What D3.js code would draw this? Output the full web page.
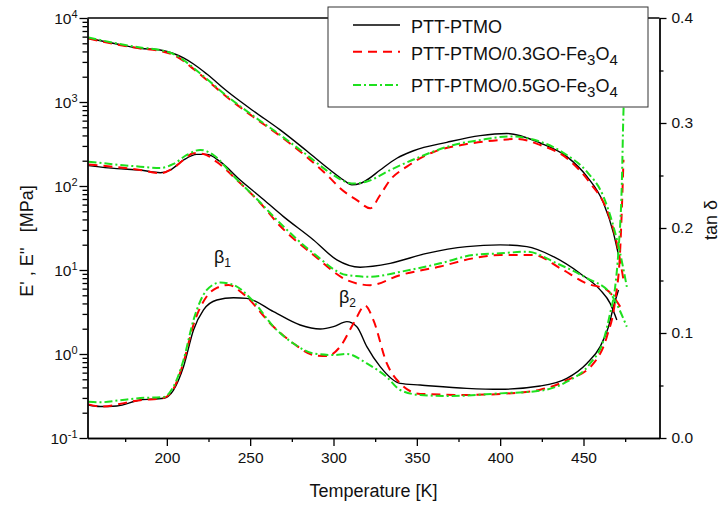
<!DOCTYPE html>
<html>
<head>
<meta charset="utf-8">
<script src="https://cdn.jsdelivr.net/npm/d3@7"></script>
<style>
  body { margin: 0; background: #fff; }
  svg { display: block; }
  text { font-family: "Liberation Sans", Arial, sans-serif; fill: #111; }
</style>
</head>
<body>
<svg id="chart" width="722" height="508"></svg>
<script>
// temperatures [K] and values
// E' (storage modulus, MPa)
var tEpBlack = [153, 170, 184, 196, 204, 210, 216, 224, 236, 252, 268, 284, 298, 306, 311, 316, 320, 328, 338, 348, 368, 388, 404, 424, 440, 452, 462, 468, 471]
var epBlack = [5730, 4900, 4355, 4160, 3776, 3342, 2831, 2153, 1352, 782, 465, 261, 155, 118, 103, 107, 118, 155, 214, 263, 331, 398, 422, 325, 224, 130, 62.8, 27.5, 15.1]

var tEpRed = [153, 184, 196, 204, 210, 216, 224, 236, 252, 268, 284, 298, 304, 314, 322, 328, 334, 344, 360, 380, 400, 410, 424, 440, 454, 464, 470, 474]
var epRed = [5700, 4335, 4046, 3631, 3076, 2472, 1828, 1148, 662, 394, 221, 124, 94, 68, 54.3, 78.2, 118, 170, 254, 316, 353, 363, 308, 214, 108, 51.8, 20.8, 7.6]

var tEpGreen = [153, 184, 196, 204, 210, 216, 224, 236, 252, 268, 284, 298, 306, 311, 320, 334, 352, 372, 388, 406, 424, 440, 452, 462, 468, 472, 476]
var epGreen = [5860, 4457, 4160, 3724, 3162, 2541, 1879, 1178, 681, 405, 234, 143, 115, 107, 113, 155, 223, 308, 353, 389, 337, 234, 148, 74.6, 32.8, 15.8, 6.3]

// E'' (loss modulus, MPa)
var tEppBlack = [153, 170, 184, 196, 202, 210, 218, 224, 232, 244, 256, 270, 288, 302, 316, 334, 356, 380, 400, 416, 432, 448, 460, 466, 470]
var eppBlack = [175, 161, 155, 144, 155, 204, 238, 238, 195, 118, 74.6, 43.2, 22.8, 13.2, 10.8, 12.0, 15.8, 19.0, 19.9, 19.0, 14.4, 9.1, 5.8, 4.0, 2.54]

var tEppRed = [153, 184, 196, 204, 210, 216, 222, 230, 242, 256, 268, 288, 308, 322, 340, 364, 384, 400, 420, 436, 452, 464, 472]
var eppRed = [180, 155, 142, 164, 204, 245, 240, 193, 118, 62.8, 33.4, 15.1, 7.6, 6.6, 8.7, 11.0, 13.8, 15.1, 15.1, 10.5, 6.9, 5.8, 3.66]

var tEppGreen = [153, 184, 196, 204, 212, 220, 228, 240, 254, 268, 288, 308, 322, 340, 364, 384, 400, 416, 434, 452, 466, 476]
var eppGreen = [195, 170, 164, 183, 234, 269, 234, 131, 70, 36, 15.8, 8.7, 8.3, 9.5, 12.0, 15.1, 15.8, 16.5, 12.0, 8.0, 5.3, 2.11]

// tan delta
var tTanBlack = [153, 160, 170, 184, 198, 204, 210, 216, 222, 230, 240, 248, 264, 280, 292, 300, 308, 314, 320, 328, 340, 352, 380, 400, 424, 440, 452, 460, 465, 468, 471]
var tanBlack = [0.0314, 0.030, 0.0305, 0.0362, 0.0378, 0.0457, 0.0679, 0.1029, 0.122, 0.1314, 0.1336, 0.133, 0.1203, 0.1076, 0.1038, 0.106, 0.1108, 0.106, 0.087, 0.068, 0.052, 0.0505, 0.0473, 0.0464, 0.0495, 0.0568, 0.071, 0.087, 0.106, 0.125, 0.141]

var tTanRed = [153, 160, 184, 198, 204, 210, 216, 224, 230, 237, 246, 264, 276, 288, 296, 304, 312, 319, 324, 332, 340, 352, 380, 400, 424, 440, 456, 464, 469, 472, 474]
var tanRed = [0.032, 0.030, 0.036, 0.038, 0.047, 0.072, 0.108, 0.135, 0.143, 0.1457, 0.137, 0.106, 0.090, 0.079, 0.078, 0.087, 0.109, 0.126, 0.112, 0.071, 0.052, 0.042, 0.041, 0.042, 0.046, 0.055, 0.071, 0.0965, 0.131, 0.179, 0.265]

var tTanGreen = [153, 160, 172, 184, 198, 204, 210, 216, 224, 232, 240, 252, 264, 276, 288, 300, 308, 320, 332, 340, 352, 370, 400, 424, 440, 454, 462, 466, 469, 471, 473, 474, 475]
var tanGreen = [0.0346, 0.034, 0.036, 0.038, 0.039, 0.0489, 0.0743, 0.1124, 0.141, 0.148, 0.1457, 0.130, 0.106, 0.090, 0.0806, 0.079, 0.080, 0.071, 0.058, 0.0457, 0.041, 0.040, 0.0425, 0.045, 0.0536, 0.071, 0.093, 0.119, 0.144, 0.179, 0.2425, 0.312, 0.34]

var xMajor = [200, 250, 300, 350, 400, 450]
var xMinor = [175, 225, 275, 325, 375, 425, 475]
var yLogMajor = [0.1, 1, 10, 100, 1000, 10000]
var yLogExp = ['-1', '0', '1', '2', '3', '4']
var tanMajor = [0, 0.1, 0.2, 0.3, 0.4]
var tanMinor = [0.05, 0.15, 0.25, 0.35]

var legendNames = ['PTT-PTMO', 'PTT-PTMO/0.3GO-Fe', 'PTT-PTMO/0.5GO-Fe']

var plotL = 87.5, plotR = 659.5, plotT = 18, plotB = 438

var svg = d3.select('#chart')

var x = d3.scaleLinear().domain([152.4, 495.6]).range([plotL, plotR])
var yL = d3.scaleLog().domain([0.1, 10000]).range([plotB, plotT])
var yR = d3.scaleLinear().domain([0, 0.4]).range([plotB, plotT])

var styles = {
    black: { color: '#000', width: 1.4, dash: null },
    red: { color: '#f00', width: 2, dash: '9,6' },
    green: { color: '#1ee01e', width: 2, dash: '8,3,2,3' }
}

function zip(ts, vs) {
    return ts.map(function (t, i) { return [t, vs[i]] })
}

function drawCurve(points, yScale, st) {
    var line = d3.line()
        .x(function (d) { return x(d[0]) })
        .y(function (d) { return yScale(d[1]) })
        .curve(d3.curveMonotoneX)
    svg.append('path')
        .attr('d', line(points))
        .attr('fill', 'none')
        .attr('stroke', st.color)
        .attr('stroke-width', st.width)
        .attr('stroke-dasharray', st.dash)
        .attr('stroke-linejoin', 'round')
}

drawCurve(zip(tEpBlack, epBlack), yL, styles.black)
drawCurve(zip(tEppBlack, eppBlack), yL, styles.black)
drawCurve(zip(tTanBlack, tanBlack), yR, styles.black)
drawCurve(zip(tEpRed, epRed), yL, styles.red)
drawCurve(zip(tEppRed, eppRed), yL, styles.red)
drawCurve(zip(tTanRed, tanRed), yR, styles.red)
drawCurve(zip(tEpGreen, epGreen), yL, styles.green)
drawCurve(zip(tEppGreen, eppGreen), yL, styles.green)
drawCurve(zip(tTanGreen, tanGreen), yR, styles.green)

// axes
var axisColor = '#000'
function styleAxis(g) {
    g.selectAll('path, line').attr('stroke', axisColor).attr('stroke-width', 1.3)
    g.selectAll('text').attr('font-size', '15.5px').attr('fill', '#111')
        .attr('font-family', '"Liberation Sans", Arial, sans-serif')
}

var gx = svg.append('g').attr('transform', 'translate(0,' + plotB + ')')
    .call(d3.axisBottom(x).tickValues(xMajor).tickSize(8).tickSizeOuter(0).tickPadding(6).tickFormat(d3.format('d')))
styleAxis(gx)
var gxm = svg.append('g').attr('transform', 'translate(0,' + plotB + ')')
    .call(d3.axisBottom(x).tickValues(xMinor).tickSize(4).tickSizeOuter(0).tickFormat(''))
styleAxis(gxm)

var logMinor = []
for (var e = -1; e < 4; e++) {
    for (var m = 2; m <= 9; m++) logMinor.push(m * Math.pow(10, e))
}
var gy = svg.append('g').attr('transform', 'translate(' + plotL + ',0)')
    .call(d3.axisLeft(yL).tickValues(yLogMajor).tickSize(8).tickSizeOuter(0).tickFormat(''))
styleAxis(gy)
var gym = svg.append('g').attr('transform', 'translate(' + plotL + ',0)')
    .call(d3.axisLeft(yL).tickValues(logMinor).tickSize(5).tickSizeOuter(0).tickFormat(''))
styleAxis(gym)

// 10^n labels
yLogMajor.forEach(function (v, i) {
    var t = svg.append('text')
        .attr('x', plotL - 10)
        .attr('y', yL(v) + 6)
        .attr('text-anchor', 'end')
        .attr('font-size', '15.5px')
    t.append('tspan').text('10')
    t.append('tspan').attr('dy', -6).attr('font-size', '11px').text(yLogExp[i])
})

var gr = svg.append('g').attr('transform', 'translate(' + plotR + ',0)')
    .call(d3.axisRight(yR).tickValues(tanMajor).tickSize(7).tickSizeOuter(0).tickPadding(5).tickFormat(d3.format('.1f')))
styleAxis(gr)
var grm = svg.append('g').attr('transform', 'translate(' + plotR + ',0)')
    .call(d3.axisRight(yR).tickValues(tanMinor).tickSize(4).tickSizeOuter(0).tickFormat(''))
styleAxis(grm)

// top frame line
svg.append('line')
    .attr('x1', plotL).attr('x2', plotR).attr('y1', plotT).attr('y2', plotT)
    .attr('stroke', axisColor).attr('stroke-width', 1.3)

// axis titles
svg.append('text')
    .attr('x', (plotL + plotR) / 2)
    .attr('y', 497)
    .attr('text-anchor', 'middle')
    .attr('font-size', '18px')
    .text('Temperature [K]')

svg.append('text')
    .attr('transform', 'translate(33,241) rotate(-90)')
    .attr('text-anchor', 'middle')
    .attr('font-size', '18px')
    .style('white-space', 'pre')
    .text("E' , E''   [MPa]")

svg.append('text')
    .attr('transform', 'translate(717,220) rotate(-90)')
    .attr('text-anchor', 'middle')
    .attr('font-size', '18px')
    .text('tan \u03b4')

// beta labels
function beta(xp, yp, sub) {
    var t = svg.append('text')
        .attr('x', xp).attr('y', yp)
        .attr('font-family', '"Liberation Serif", "Times New Roman", serif')
        .attr('font-size', '18px')
    t.append('tspan').text('\u03b2')
    t.append('tspan').attr('dy', 4).attr('font-size', '12px').text(sub)
}
beta(214, 263, '1')
beta(339, 303, '2')

// legend
var lg = svg.append('g')
lg.append('rect')
    .attr('x', 328).attr('y', 7).attr('width', 320).attr('height', 100)
    .attr('fill', '#fff').attr('stroke', '#333').attr('stroke-width', 1)

var legendStyles = [styles.black, styles.red, styles.green]
var legendLineY = [25, 51.7, 85]
var legendTextY = [33.3, 60, 92]
legendNames.forEach(function (name, i) {
    var st = legendStyles[i]
    lg.append('line')
        .attr('x1', 353).attr('x2', 400)
        .attr('y1', legendLineY[i]).attr('y2', legendLineY[i])
        .attr('stroke', st.color).attr('stroke-width', st.width)
        .attr('stroke-dasharray', st.dash)
    var t = lg.append('text')
        .attr('x', 411).attr('y', legendTextY[i])
        .attr('font-size', '18px')
    t.append('tspan').text(name)
    if (i > 0) {
        t.append('tspan').attr('dy', 5).attr('font-size', '15px').text('3')
        t.append('tspan').attr('dy', -5).text('O')
        t.append('tspan').attr('dy', 5).attr('font-size', '15px').text('4')
    }
})
</script>
</body>
</html>
